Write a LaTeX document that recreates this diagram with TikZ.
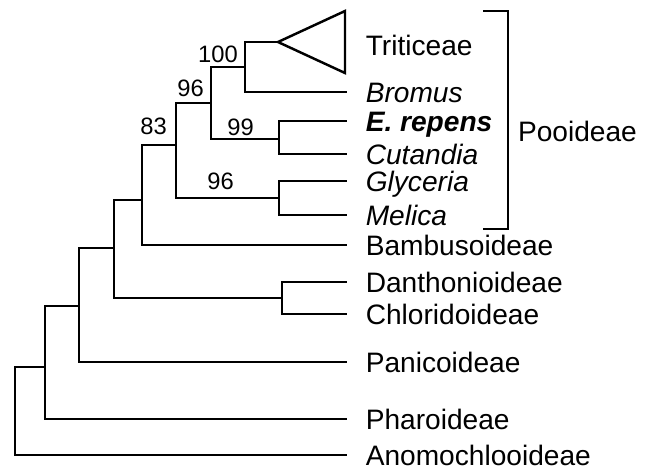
\documentclass[tikz,border=0pt]{standalone}
\usepackage{fontspec}
\setmainfont{Liberation Sans}
\usepackage{tikz}
\usetikzlibrary{calc, positioning}

\begin{document}
\begin{tikzpicture}[x=0.02cm, y=-0.02cm, line width=1.4pt,
    taxon/.style={anchor=west, inner xsep=10pt, inner ysep=0pt, text height=11.4pt, text depth=0pt, font=\fontsize{16}{19}\selectfont},
    boot/.style={inner sep=0pt, font=\fontsize{13.5}{15}\selectfont}]
  \useasboundingbox (0,0) rectangle (647,468);

  % internal nodes of the tree
  \coordinate (root) at (15,400);
  \coordinate (nPha) at (45,367);
  \coordinate (nPan) at (79,306);
  \coordinate (nBDC) at (114,248);
  \coordinate (n83) at (142,200);
  \coordinate (n96b) at (176,145);
  \coordinate (n96a) at (211,103);
  \coordinate (n100) at (245,67);
  \coordinate (n99) at (279,139);
  \coordinate (nGM) at (279,198);
  \coordinate (nDC) at (282,298);
  \coordinate (tri) at (278,42);

  % taxa
  \node[taxon] (triti) at (347,45) {Triticeae};
  \node[taxon] (bromus) at (347,92) {\itshape Bromus};
  \node[taxon] (erep) at (347,121) {\bfseries\itshape E. repens};
  \node[taxon] (cuta) at (347,154) {\itshape Cutandia};
  \node[taxon] (glyc) at (347,181) {\itshape Glyceria};
  \node[taxon] (meli) at (347,215) {\itshape Melica};
  \node[taxon] (bamb) at (347,245) {Bambusoideae};
  \node[taxon] (danth) at (347,282) {Danthonioideae};
  \node[taxon] (chlor) at (347,314) {Chloridoideae};
  \node[taxon] (panic) at (347,362) {Panicoideae};
  \node[taxon] (pharo) at (347,419) {Pharoideae};
  \node[taxon] (anomo) at (347,455) {Anomochlooideae};

  % branches
  \draw (root) |- (nPha) (root) |- (anomo.west);
  \draw (nPha) |- (nPan) (nPha) |- (pharo.west);
  \draw (nPan) |- (nBDC) (nPan) |- (panic.west);
  \draw (nBDC) |- (n83) (nBDC) |- (nDC);
  \draw (nDC) |- (danth.west) (nDC) |- (chlor.west);
  \draw (n83) |- (n96b) (n83) |- (bamb.west);
  \draw (n96b) |- (n96a) (n96b) |- (nGM);
  \draw (nGM) |- (glyc.west) (nGM) |- (meli.west);
  \draw (n96a) |- (n100) (n96a) |- (n99);
  \draw (n99) |- (erep.west) (n99) |- (cuta.west);
  \draw (n100) |- (tri) (n100) |- (bromus.west);

  % collapsed Triticeae clade
  \draw[line join=miter] (tri) -- (345,11) -- (345,73) -- cycle;

  % bootstrap values
  \node[boot, above left=1.7pt and 3.4pt of n100] (b100) {100};
  \node[boot, above left=2.8pt and 3.4pt of n96a] (b96a) {96};
  \node[boot, above left=5pt and 4.5pt of n96b] (b83) {83};
  \node[boot, above left=1pt and 13.6pt of n99] (b99) {99};
  \node[boot, above left=4pt and 25pt of nGM] (b96b) {96};

  % Pooideae bracket
  \coordinate (brTop) at (483,11);
  \coordinate (brBot) at (483,229);
  \draw (brTop) -- ++(25,0) |- (brBot);
  \node[anchor=west, inner xsep=5pt, font=\fontsize{16}{19}\selectfont] (pooid) at (508,131) {Pooideae};
\end{tikzpicture}
\end{document}
